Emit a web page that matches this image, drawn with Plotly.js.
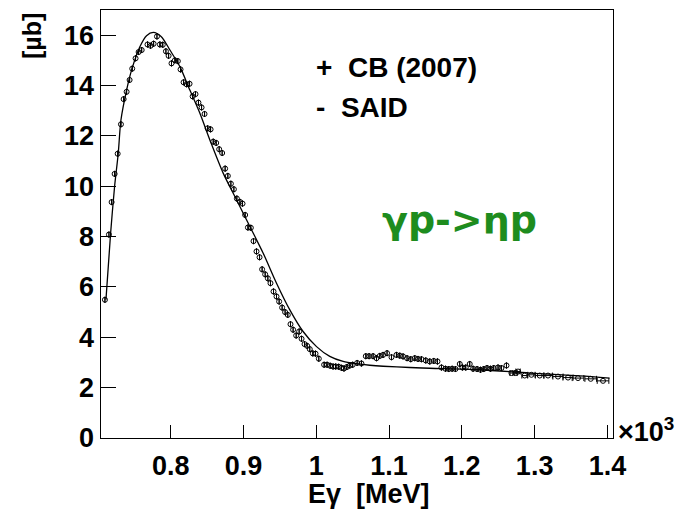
<!DOCTYPE html>
<html>
<head>
<meta charset="utf-8">
<script src="https://cdn.plot.ly/plotly-3.0.1.min.js"></script>
<style>html,body{margin:0;padding:0;background:#fff;}#chart{width:675px;height:511px;}</style>
</head>
<body>
<div id="chart"></div>
<script>
// CB (2007) data: photon energy (x10^3 MeV) and cross section (µb)
const cbEnergy = [
0.7095,0.715,0.7187,0.7228,0.727,0.7315,0.7352,0.7393,0.7434,0.747,0.7516,0.7558,0.760,0.768,0.7722,0.7764,0.781,0.785,0.789,0.7933,
0.797,0.801,0.8056,0.8097,0.8134,0.8176,0.8217,0.8258,0.830,0.834,0.838,0.8423,0.8464,0.8506,0.8547,0.8583,0.8624,0.8665,0.8706,0.8747,
0.8784,0.8826,0.8867,0.8908,0.895,0.8986,0.9022,0.906,0.910,0.9137,0.9178,0.922,0.9255,0.9297,0.9334,0.937,0.9412,0.9453,0.9489,0.953,
0.9571,0.9608,0.9645,0.9681,0.9723,0.9764,0.9797,0.9838,0.9874,0.991,0.9952,0.9989,1.0034,1.0107,1.0148,1.019,1.023,1.0266,1.0307,1.0345,
1.038,1.042,1.046,1.050,1.0561,1.062,1.068,1.0725,1.078,1.0827,1.0872,1.0917,1.0972,1.1033,1.1101,1.1147,1.1192,1.1247,1.1298,1.1353,
1.1398,1.1445,1.1504,1.1559,1.1614,1.1665,1.172,1.1775,1.182,1.1866,1.1912,1.1971,1.2008,1.2053,1.2108,1.2154,1.2209,1.2256,1.2301,1.2346,
1.2393,1.2438,1.2497,1.2544,1.2613,1.2681,1.274,1.2772,1.2864,1.2956,1.307,1.3184,1.3321,1.3459,1.3596,1.3771,1.394];
const cbSigma = [
5.49,8.08,9.37,10.49,11.29,12.46,13.46,13.75,14.22,14.67,15.08,15.33,15.41,15.63,15.58,15.66,15.95,15.63,15.62,15.36,
15.18,14.88,15.00,14.97,14.64,14.13,14.05,14.07,13.57,13.66,13.32,13.13,12.87,12.30,12.26,11.77,11.72,11.47,11.32,10.70,
10.41,10.10,9.88,9.51,9.38,9.31,8.86,8.36,8.35,7.82,7.41,7.18,6.70,6.50,6.34,6.15,5.82,5.62,5.42,5.18,
5.00,4.89,4.52,4.30,4.07,4.23,3.94,3.73,3.66,3.53,3.36,3.35,3.15,2.91,2.91,2.87,2.84,2.84,2.83,2.79,
2.76,2.82,2.88,2.91,2.98,2.96,3.25,3.25,3.25,3.17,3.26,3.30,3.37,3.21,3.30,3.27,3.24,3.17,3.13,3.17,
3.14,3.13,3.08,3.04,3.06,3.04,2.80,2.75,2.74,2.75,2.74,2.94,2.80,2.80,2.94,2.75,2.74,2.71,2.74,2.78,
2.75,2.78,2.80,2.78,2.88,2.58,2.58,2.64,2.48,2.51,2.48,2.48,2.44,2.40,2.38,2.35,2.27];
// horizontal (energy bin) half-widths, visible only at high energy
const cbEnergyErr = [
0,0,0,0,0,0,0,0,0,0,0,0,0,0,0,0,0,0,0,0,
0,0,0,0,0,0,0,0,0,0,0,0,0,0,0,0,0,0,0,0,
0,0,0,0,0,0,0,0,0,0,0,0,0,0,0,0,0,0,0,0,
0,0,0,0,0,0,0,0,0,0,0,0,0,0,0,0,0,0,0,0,
0,0,0,0,0,0,0,0,0,0,0,0,0,0,0,0,0,0,0,0,
0,0,0,0,0,0,0,0,0,0,0,0,0,0,0,0,0,0,0,0,
0,0,0,0,0,0.002,0.002,0.003,0.004,0.005,0.006,0.006,0.007,0.007,0.008,0.008,0.008];

// SAID solution curve
const saidEnergy = [0.7109,0.7173,0.7228,0.7278,0.7315,0.7393,0.746,0.7575,0.7667,0.776,0.787,0.7988,0.8125,0.8262,0.84,0.8537,0.872,0.8904,
0.9087,0.927,0.9453,0.9636,0.9818,1.0003,1.0185,1.0368,1.0552,1.0735,1.0918,1.1284,1.156,1.2245,1.293,1.362,1.403];
const saidSigma = [5.49,8.13,10.0,11.31,12.63,13.82,14.6,15.54,15.98,16.11,15.94,15.41,14.75,13.82,12.9,11.84,10.52,9.46,
8.40,7.34,6.15,5.09,4.23,3.63,3.24,3.04,2.95,2.89,2.85,2.80,2.77,2.71,2.58,2.47,2.38];

const xTickVals = [0.8,0.9,1.0,1.1,1.2,1.3,1.4];
const xTickText = ['0.8','0.9','1','1.1','1.2','1.3','1.4'];
const yTickVals = [0,2,4,6,8,10,12,14,16];

const xRange = [0.7041,1.4077];
const yRange = [0,17];

const bold = {family:'Liberation Sans, Arial, sans-serif', size:27, color:'#000', weight:'bold'};
const legendFont = {family:'Liberation Sans, Arial, sans-serif', size:28, color:'#000', weight:'bold'};

const traces = [
  {x: saidEnergy, y: saidSigma, type:'scatter', mode:'lines', line:{color:'#000', width:1.3, shape:'spline', smoothing:0.8}, showlegend:false, hoverinfo:'skip'},
  {x: cbEnergy, y: cbSigma, type:'scatter', mode:'markers',
   marker:{symbol:'circle-open', size:5, color:'#000', line:{width:1, color:'#000'}},
   error_x:{type:'data', array: cbEnergyErr, visible:true, color:'#000', thickness:1, width:3},
   showlegend:false},
  // invisible trace that carries the labelled overlay axes
  {x: cbEnergy, y: cbSigma, xaxis:'x2', yaxis:'y2', type:'scatter', mode:'markers', marker:{opacity:0}, showlegend:false, hoverinfo:'skip'}
];

const layout = {
  width:675, height:511,
  margin:{l:101, r:62, t:10, b:73, pad:0},
  paper_bgcolor:'#fff', plot_bgcolor:'#fff',
  showlegend:false,
  xaxis:{range:xRange, tickvals:xTickVals, ticks:'inside', ticklen:13, tickwidth:1, tickcolor:'#000',
         showticklabels:false, showgrid:false, zeroline:false, showline:true, linecolor:'#000', linewidth:1, mirror:true},
  yaxis:{range:yRange, tickvals:yTickVals, ticks:'inside', ticklen:15, tickwidth:1, tickcolor:'#000',
         showticklabels:false, showgrid:false, zeroline:false, showline:true, linecolor:'#000', linewidth:1, mirror:true},
  xaxis2:{range:xRange, overlaying:'x', side:'bottom', anchor:'y', tickvals:xTickVals, ticktext:xTickText, ticks:'',
          showgrid:false, zeroline:false, showline:false, tickfont:bold, ticklabelstandoff:9},
  yaxis2:{range:yRange, overlaying:'y', side:'left', anchor:'free', position:0, tickvals:yTickVals, ticks:'',
          showgrid:false, zeroline:false, showline:false, tickfont:bold, ticklabelstandoff:7},
  annotations:[
    {xref:'paper', yref:'paper', x:(369-101)/512, y:-(494-438)/428, text:'<b>Eγ  [MeV]</b>', showarrow:false, xanchor:'center', yanchor:'middle', font:bold},
    {xref:'paper', yref:'paper', x:-(101-32)/512, y:(438-36)/428, text:'<b>[µb]</b>', showarrow:false, textangle:-90, xanchor:'center', yanchor:'middle', font:{family:'Liberation Sans, Arial, sans-serif', size:25, color:'#000'}},
    {xref:'paper', yref:'paper', x:(616-101)/512, y:-(430-438)/428, text:'<b>×10<sup>3</sup></b>', showarrow:false, xanchor:'left', yanchor:'middle', font:bold},
    {xref:'paper', yref:'paper', x:(314-101)/512, y:(438-67)/428, text:'<b>+  CB (2007)</b>', showarrow:false, xanchor:'left', yanchor:'middle', font:legendFont},
    {xref:'paper', yref:'paper', x:(314-101)/512, y:(438-108)/428, text:'<b>-  SAID</b>', showarrow:false, xanchor:'left', yanchor:'middle', font:legendFont},
    {xref:'paper', yref:'paper', x:(380-101)/512, y:(438-220)/428, text:'γp->ηp', showarrow:false, xanchor:'left', yanchor:'middle', font:{family:'DejaVu Sans, sans-serif', size:38, color:'#1e8c1e', weight:'bold'}}
  ]
};

Plotly.newPlot('chart', traces, layout, {staticPlot:true, displayModeBar:false});
</script>
</body>
</html>
